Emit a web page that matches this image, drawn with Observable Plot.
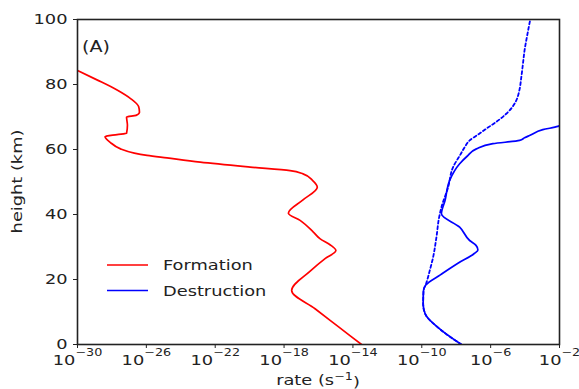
<!DOCTYPE html>
<html>
<head>
<meta charset="utf-8">
<script src="https://cdn.jsdelivr.net/npm/d3@7"></script>
<script src="https://cdn.jsdelivr.net/npm/@observablehq/plot@0.6"></script>
<style>
  html, body { margin: 0; padding: 0; background: #fff; }
  #chart svg { display: block; }
</style>
</head>
<body>
<div id="chart"></div>
<script>
// ---- data ----
const xTickExponents = [-30, -26, -22, -18, -14, -10, -6, -2];
const yTicks = [0, 20, 40, 60, 80, 100];

const seriesNames = ["Formation", "Destruction"];
const seriesColors = ["#ff0000", "#0000ff"];
const panelLabel = "(A)";
const xLabelBase = "rate (s";
const xLabelExp = "−1";
const yLabel = "height (km)";

// Formation rate: heights (km) and log10(rate / s^-1)
const formationHeight = [84.3, 81.5, 78.3, 75.6, 73.2, 71.5, 70.5, 70.0, 67.5, 65.0, 64.6, 64.0, 62.2, 60.2, 58.9, 58.2, 57.4, 56.1, 54.6, 53.5, 52.5, 50.5, 48.4, 44.5, 40.4, 38.2, 34.6, 32.5, 30.7, 28.9, 26.5, 22.5, 16.6, 11.0, 5.5, 0.0];
const formationLogRate = [-30.0, -28.9, -27.7, -26.9, -26.45, -26.4, -26.6, -27.15, -27.1, -27.15, -27.7, -28.4, -28.1, -27.5, -26.7, -25.96, -24.8, -22.87, -19.97, -17.65, -16.9, -16.35, -16.07, -16.9, -17.75, -17.07, -16.3, -15.9, -15.33, -14.99, -15.6, -16.5, -17.56, -16.2, -14.85, -13.5];

// Destruction rate (solid)
const destructionHeight = [0.0, 4.8, 9.4, 12.5, 16.6, 18.3, 21.5, 25.0, 28.0, 29.1, 30.5, 32.0, 36.1, 40.2, 44.3, 50.5, 55.6, 58.0, 60.2, 61.8, 62.8, 63.6, 64.3, 66.1, 67.1, 67.3];
const destructionLogRate = [-7.70, -8.96, -9.8, -9.92, -9.9, -9.77, -8.9, -7.9, -6.95, -6.74, -6.85, -7.22, -7.8, -8.86, -8.65, -8.38, -7.8, -7.35, -6.83, -5.87, -4.32, -4.03, -3.74, -2.97, -2.1, -2.0];

// Destruction rate (dashed)
const destructionDashedHeight = [0.0, 4.8, 9.4, 12.5, 16.6, 18.7, 22.5, 26.9, 33.0, 39.2, 42.2, 48.4, 54.6, 58.5, 60.8, 62.8, 64.7, 66.4, 68.8, 71.0, 73.2, 75.1, 78.5, 82.2, 86.5, 90.5, 95.0, 100.0];
const destructionDashedLogRate = [-7.70, -8.96, -9.8, -9.92, -9.9, -9.75, -9.55, -9.34, -9.15, -8.99, -8.86, -8.47, -8.18, -7.75, -7.5, -7.22, -6.7, -6.25, -5.6, -5.09, -4.72, -4.51, -4.32, -4.22, -4.12, -4.03, -3.88, -3.7];

// ---- build tables ----
const toRows = (hs, ls) => hs.map((h, i) => ({height: h, rate: Math.pow(10, ls[i])}));
const formationRows = toRows(formationHeight, formationLogRate);
const destructionRows = toRows(destructionHeight, destructionLogRate);
const dashedRows = toRows(destructionDashedHeight, destructionDashedLogRate);
const xTicks = xTickExponents.map(e => Math.pow(10, e));

const W = 579, H = 389;
const FONT = "DejaVu Sans";
const STRETCH = 1.27;

const svg = Plot.plot({
  width: W,
  height: H,
  marginLeft: 77,
  marginRight: 20,
  marginTop: 19,
  marginBottom: 45,
  style: {fontFamily: FONT, fontSize: "14px", background: "#fff", color: "#222", overflow: "visible"},
  x: {type: "log", domain: [1e-30, 1e-2]},
  y: {domain: [0, 100]},
  marks: [
    Plot.axisX({ticks: xTicks, tickSize: 4, tickPadding: 7, label: null,
      tickFormat: d => "10^" + Math.round(Math.log10(d))}),
    Plot.axisY({ticks: yTicks, tickSize: 4, tickPadding: 6, label: null}),
    Plot.line(dashedRows, {x: "rate", y: "height", stroke: seriesColors[1], strokeWidth: 1.8, strokeDasharray: "3,2.6", curve: "monotone-y", clip: true}),
    Plot.line(destructionRows, {x: "rate", y: "height", stroke: seriesColors[1], strokeWidth: 1.7, curve: "monotone-y", clip: true}),
    Plot.line(formationRows, {x: "rate", y: "height", stroke: seriesColors[0], strokeWidth: 1.7, curve: "monotone-y", clip: true}),
    Plot.frame({stroke: "#222", strokeWidth: 1.6})
  ]
});

document.getElementById("chart").append(svg);
const s = d3.select(svg);

// x tick labels as 10 with raised exponent
s.selectAll('g[aria-label="x-axis tick label"] text').each(function() {
  const e = this.textContent.split("^")[1].replace("-", "−");
  const t = d3.select(this);
  t.text("10");
  t.append("tspan").attr("dy", "-0.9em").attr("font-size", "10px").text(e);
});

// axis titles
const xl = s.append("text")
  .attr("x", 318).attr("y", 385)
  .attr("text-anchor", "middle")
  .attr("font-family", FONT).attr("font-size", 14).attr("fill", "#222");
xl.append("tspan").text(xLabelBase);
xl.append("tspan").attr("dy", "-0.5em").attr("font-size", "10px").text(xLabelExp);
xl.append("tspan").attr("dy", "0.5em").text(")");

s.append("text")
  .attr("transform", "translate(22,181.5) rotate(-90)")
  .attr("text-anchor", "middle")
  .attr("font-family", FONT).attr("font-size", 14).attr("fill", "#222")
  .text(yLabel);

// panel label
s.append("text")
  .attr("x", 82).attr("y", 52)
  .attr("text-anchor", "start")
  .attr("font-family", FONT).attr("font-size", 15).attr("fill", "#222")
  .text(panelLabel);

// legend
const legend = s.append("g").attr("font-family", FONT).attr("font-size", 14).attr("fill", "#222").attr("text-anchor", "start");
seriesNames.forEach((name, i) => {
  const cy = 265 + i * 25.5;
  legend.append("line").attr("x1", 107).attr("x2", 148).attr("y1", cy).attr("y2", cy)
    .attr("stroke", seriesColors[i]).attr("stroke-width", 1.6);
  legend.append("text").attr("x", 163).attr("y", cy + 5.3).text(name);
});

// glyphs in the reference are wider than DejaVu Sans: stretch along the advance
s.selectAll("text").each(function() {
  const len = this.getComputedTextLength();
  if (len > 0) {
    this.setAttribute("textLength", (len * STRETCH).toFixed(1));
    this.setAttribute("lengthAdjust", "spacingAndGlyphs");
  }
});
</script>
</body>
</html>
